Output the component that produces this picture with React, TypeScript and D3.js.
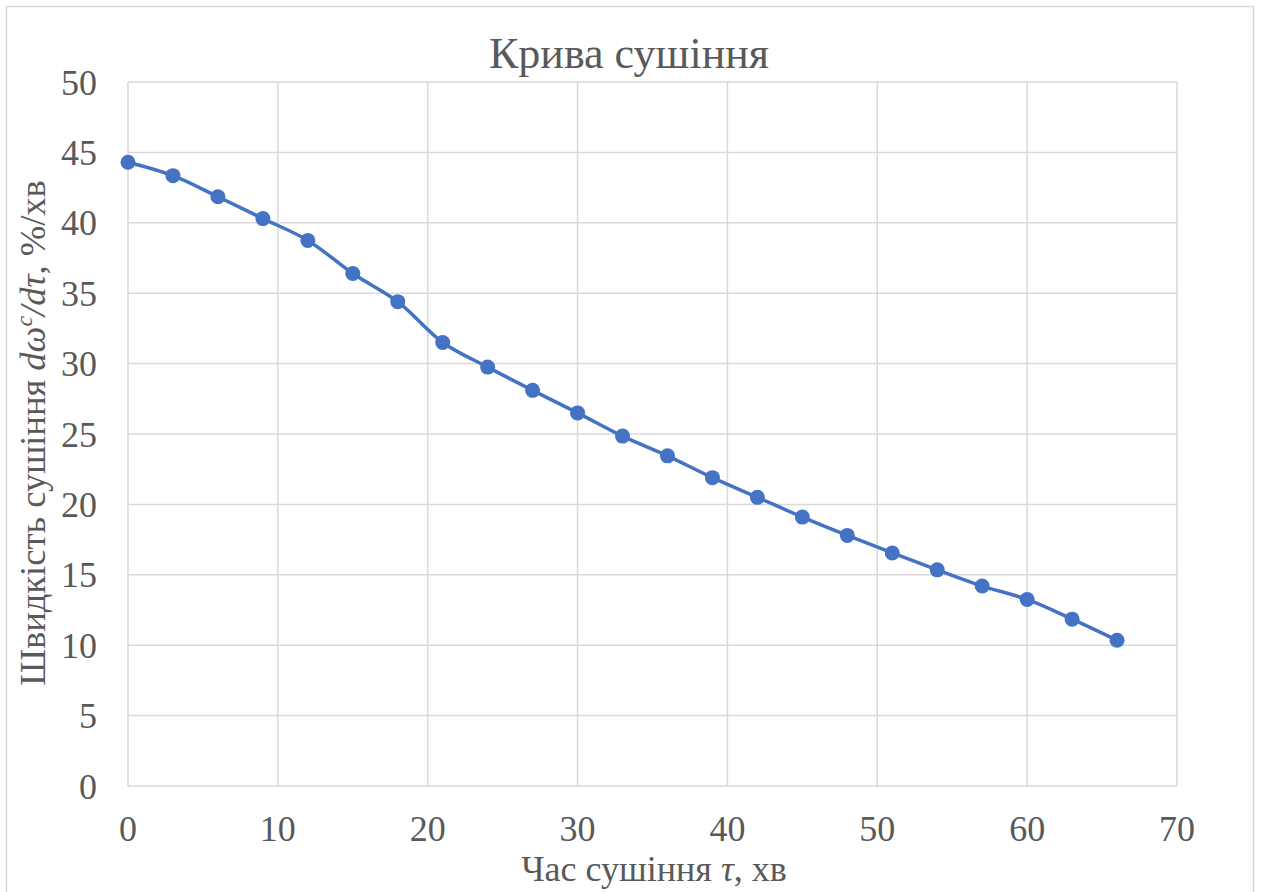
import React, { useEffect, useRef } from "react";
import * as d3 from "d3";

// Drying time, min
const times: number[] = [0, 3, 6, 9, 12, 15, 18, 21, 24, 27, 30, 33, 36, 39, 42, 45, 48, 51, 54, 57, 60, 63, 66];
// Drying rate dω/dτ, %/min
const rates: number[] = [44.3, 43.35, 41.85, 40.3, 38.75, 36.4, 34.4, 31.5, 29.75, 28.1, 26.5, 24.85, 23.45, 21.9, 20.5, 19.1, 17.8, 16.55, 15.35, 14.2, 13.25, 11.85, 10.35];

const xTicks: number[] = [0, 10, 20, 30, 40, 50, 60, 70];
const yTicks: number[] = [0, 5, 10, 15, 20, 25, 30, 35, 40, 45, 50];

const W = 1261;
const H = 892;
const M = { left: 128, right: 1177, top: 82, bottom: 786 };
const FONT = "'Liberation Serif', 'Times New Roman', serif";
const TEXT = "#595959";
const GRID = "#d9d9d9";
const BLUE = "#4472C4";

export default function App() {
  const ref = useRef<SVGSVGElement | null>(null);

  useEffect(() => {
    const svg = d3.select(ref.current);
    svg.selectAll("*").remove();

    const x = d3.scaleLinear().domain([0, 70]).range([M.left, M.right]);
    const y = d3.scaleLinear().domain([0, 50]).range([M.bottom, M.top]);

    svg.append("rect").attr("width", W).attr("height", H).attr("fill", "#fff");

    // chart frame
    svg.append("rect")
      .attr("x", 6.5).attr("y", 6.5)
      .attr("width", 1247).attr("height", H + 10)
      .attr("fill", "none").attr("stroke", GRID).attr("stroke-width", 1.5);

    // gridlines
    const g = svg.append("g");
    g.selectAll("line.h").data(yTicks).join("line")
      .attr("x1", M.left).attr("x2", M.right)
      .attr("y1", (d) => y(d)).attr("y2", (d) => y(d))
      .attr("stroke", GRID).attr("stroke-width", 1.5);
    g.selectAll("line.v").data(xTicks).join("line")
      .attr("y1", M.top).attr("y2", M.bottom)
      .attr("x1", (d) => x(d)).attr("x2", (d) => x(d))
      .attr("stroke", GRID).attr("stroke-width", 1.5);

    // tick labels
    svg.append("g").selectAll("text").data(yTicks).join("text")
      .attr("x", 97).attr("y", (d) => y(d))
      .attr("dy", "0.35em")
      .attr("text-anchor", "end")
      .attr("font-family", FONT).attr("font-size", 36).attr("fill", TEXT)
      .text((d) => String(d));
    svg.append("g").selectAll("text").data(xTicks).join("text")
      .attr("x", (d) => x(d)).attr("y", 828)
      .attr("dy", "0.35em")
      .attr("text-anchor", "middle")
      .attr("font-family", FONT).attr("font-size", 36).attr("fill", TEXT)
      .text((d) => String(d));

    // title
    svg.append("text")
      .attr("x", 629).attr("y", 68)
      .attr("text-anchor", "middle")
      .attr("font-family", FONT).attr("font-size", 44).attr("fill", TEXT)
      .text("Крива сушіння");

    // x axis title
    const xt = svg.append("text")
      .attr("x", 654).attr("y", 881)
      .attr("text-anchor", "middle")
      .attr("font-family", FONT).attr("font-size", 36).attr("fill", TEXT);
    xt.append("tspan").text("Час сушіння ");
    xt.append("tspan").attr("font-style", "italic").text("τ");
    xt.append("tspan").text(", хв");

    // y axis title
    const yt = svg.append("text")
      .attr("transform", `translate(45, 433) rotate(-90)`)
      .attr("text-anchor", "middle")
      .attr("font-family", FONT).attr("font-size", 36.5).attr("fill", TEXT);
    yt.append("tspan").text("Швидкість сушіння ");
    yt.append("tspan").attr("font-style", "italic").text("dω");
    yt.append("tspan").attr("font-style", "italic").attr("font-size", 24).attr("dy", -13).text("c");
    yt.append("tspan").attr("font-style", "italic").attr("dy", 13).text("/dτ");
    yt.append("tspan").text(", %/хв");

    const pts: [number, number][] = times.map((t, i) => [t, rates[i]]);

    const line = d3.line<[number, number]>()
      .x((d) => x(d[0]))
      .y((d) => y(d[1]))
      .curve(d3.curveCatmullRom.alpha(0.5));

    svg.append("path")
      .datum(pts)
      .attr("d", line)
      .attr("fill", "none")
      .attr("stroke", BLUE)
      .attr("stroke-width", 3.5)
      .attr("stroke-linejoin", "round");

    svg.append("g").selectAll("circle").data(pts).join("circle")
      .attr("cx", (d) => x(d[0]))
      .attr("cy", (d) => y(d[1]))
      .attr("r", 7.5)
      .attr("fill", BLUE);
  }, []);

  return (
    <svg
      ref={ref}
      width={W}
      height={H}
      style={{ position: "absolute", left: 0, top: 0, display: "block" }}
    />
  );
}
